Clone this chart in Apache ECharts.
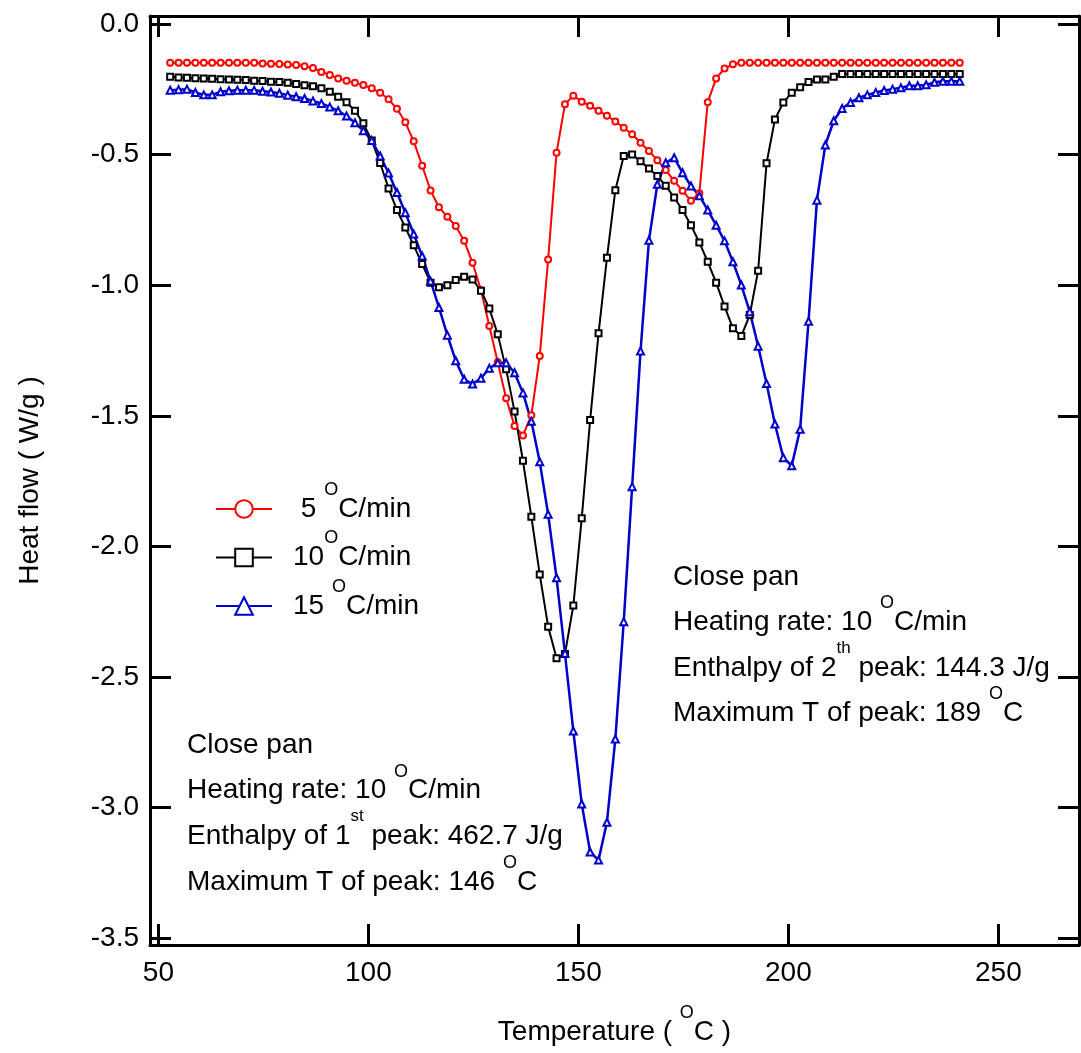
<!DOCTYPE html>
<html><head><meta charset="utf-8">
<script src="https://cdn.jsdelivr.net/npm/echarts@6/dist/echarts.min.js"></script>
<style>html,body{margin:0;padding:0;background:#fff}#c{width:1081px;height:1053px}</style>
</head><body><div id="c"></div>
<script>
const temperature = [52.8,54.8,56.8,58.8,60.8,62.8,64.8,66.8,68.8,70.8,72.8,74.8,76.8,78.8,80.8,82.8,84.8,86.8,88.8,90.8,92.8,94.8,96.8,98.8,100.8,102.8,104.8,106.8,108.8,110.8,112.8,114.8,116.8,118.8,120.8,122.8,124.8,126.8,128.8,130.8,132.8,134.8,136.8,138.8,140.8,142.8,144.8,146.8,148.8,150.8,152.8,154.8,156.8,158.8,160.8,162.8,164.8,166.8,168.8,170.8,172.8,174.8,176.8,178.8,180.8,182.8,184.8,186.8,188.8,190.8,192.8,194.8,196.8,198.8,200.8,202.8,204.8,206.8,208.8,210.8,212.8,214.8,216.8,218.8,220.8,222.8,224.8,226.8,228.8,230.8,232.8,234.8,236.8,238.8,240.8];

const flow5 = [-0.148,-0.148,-0.148,-0.148,-0.148,-0.148,-0.148,-0.148,-0.148,-0.148,-0.148,
-0.151,-0.152,-0.153,-0.155,-0.157,-0.161,-0.168,-0.183,-0.195,-0.208,
-0.217,-0.225,-0.233,-0.246,-0.263,-0.288,-0.324,-0.376,-0.449,-0.542,
-0.637,-0.701,-0.738,-0.773,-0.830,-0.914,-1.018,-1.156,-1.295,-1.433,
-1.539,-1.575,-1.498,-1.271,-0.901,-0.493,-0.307,-0.274,-0.297,-0.313,
-0.332,-0.351,-0.373,-0.397,-0.422,-0.454,-0.486,-0.521,-0.559,-0.600,
-0.638,-0.676,-0.648,-0.299,-0.208,-0.170,-0.154,
-0.148,-0.148,-0.148,-0.148,-0.148,-0.148,-0.148,-0.148,-0.148,-0.148,
-0.148,-0.148,-0.148,-0.148,-0.148,-0.148,-0.148,-0.148,-0.148,-0.148,
-0.148,-0.148,-0.148,-0.148,-0.148,-0.148,-0.148];

const flow10 = [-0.202,-0.204,-0.205,-0.207,-0.208,-0.209,-0.211,-0.212,-0.213,-0.214,
-0.217,-0.218,-0.221,-0.222,-0.225,-0.229,-0.234,-0.238,-0.246,-0.259,
-0.278,-0.299,-0.332,-0.380,-0.446,-0.532,-0.629,-0.712,-0.779,-0.847,
-0.919,-0.990,-1.008,-1.000,-0.980,-0.967,-0.978,-1.021,-1.089,-1.188,
-1.322,-1.483,-1.672,-1.886,-2.107,-2.307,-2.428,-2.412,-2.226,-1.892,
-1.516,-1.184,-0.895,-0.636,-0.505,-0.499,-0.525,-0.553,-0.582,-0.619,
-0.664,-0.712,-0.770,-0.836,-0.910,-0.990,-1.081,-1.165,-1.194,-1.114,
-0.944,-0.533,-0.365,-0.300,-0.263,-0.242,-0.222,-0.212,-0.212,-0.202,
-0.191,-0.191,-0.191,-0.191,-0.191,-0.191,-0.191,-0.191,-0.191,-0.191,
-0.191,-0.191,-0.191,-0.191,-0.191];

const flow15 = [-0.253,-0.251,-0.249,-0.262,-0.271,-0.271,-0.259,-0.255,-0.253,-0.253,
-0.253,-0.257,-0.260,-0.265,-0.272,-0.278,-0.285,-0.294,-0.304,-0.317,
-0.332,-0.352,-0.378,-0.408,-0.446,-0.505,-0.570,-0.645,-0.722,-0.804,
-0.888,-0.984,-1.085,-1.191,-1.289,-1.360,-1.378,-1.356,-1.318,-1.297,
-1.297,-1.335,-1.412,-1.521,-1.676,-1.877,-2.120,-2.409,-2.707,-2.986,
-3.170,-3.201,-3.056,-2.737,-2.288,-1.771,-1.252,-0.828,-0.613,-0.531,
-0.512,-0.569,-0.620,-0.657,-0.712,-0.770,-0.830,-0.910,-0.999,-1.101,
-1.233,-1.376,-1.531,-1.660,-1.691,-1.551,-1.138,-0.674,-0.463,-0.370,
-0.323,-0.300,-0.282,-0.271,-0.262,-0.254,-0.249,-0.244,-0.236,-0.236,
-0.232,-0.223,-0.219,-0.219,-0.219];

const xTicks = [50, 100, 150, 200, 250];
const yTicks = [0, -0.5, -1, -1.5, -2, -2.5, -3, -3.5];
const seriesNames = ['5 °C/min', '10 °C/min', '15 °C/min'];
const legendLabels = ['{g| } 5 {sup|O}C/min', '{g| }10{sup|O}C/min', '{g| }15 {sup|O}C/min'];
const noteLeft = ['Close pan', 'Heating rate: 10 {sup|O}C/min', 'Enthalpy of 1{sups|st} peak: 462.7 J/g', 'Maximum T of peak: 146 {sup|O}C'];
const noteRight = ['Close pan', 'Heating rate: 10 {sup|O}C/min', 'Enthalpy of 2{sups|th} peak: 144.3 J/g', 'Maximum T of peak: 189 {sup|O}C'];
const xTitle = 'Temperature ( {sup|O}C )';
const yTitle = 'Heat flow ( W/g )';

const FONT = '"Liberation Sans", Arial, sans-serif';
const supStyle = {fontSize: 18, lineHeight: 18, verticalAlign: 'top', fontFamily: FONT, color: '#000', fill: '#000'};
const supsStyle = {fontSize: 17, lineHeight: 20, verticalAlign: 'top', fontFamily: FONT, color: '#000', fill: '#000'};

function xAx(pos, showLabel) {
  return {type: 'value', position: pos, min: 48, max: 269.2,
    name: showLabel ? xTitle : '', nameLocation: 'middle', nameGap: 59,
    nameTextStyle: {fontSize: 28, lineHeight: 56, fontFamily: FONT, color: '#000', rich: {sup: supStyle}},
    axisLine: {show: true, onZero: false, lineStyle: {color: '#000', width: 3}},
    axisTick: {show: true, inside: true, length: 21, customValues: xTicks, lineStyle: {color: '#000', width: 3}},
    axisLabel: {show: showLabel, customValues: xTicks, fontSize: 28, color: '#000', fontFamily: FONT, margin: 14},
    splitLine: {show: false}};
}
function yAx(pos, showLabel) {
  return {type: 'value', position: pos, min: -3.526, max: 0.031,
    name: showLabel ? yTitle : '', nameLocation: 'middle', nameGap: 106, nameRotate: 90,
    nameTextStyle: {fontSize: 28, lineHeight: 28, fontFamily: FONT, color: '#000'},
    axisLine: {show: true, onZero: false, lineStyle: {color: '#000', width: 3}},
    axisTick: {show: true, inside: true, length: 21, customValues: yTicks, lineStyle: {color: '#000', width: 3}},
    axisLabel: {show: showLabel, customValues: yTicks, fontSize: 28, color: '#000', fontFamily: FONT, margin: 11,
      formatter: v => v.toFixed(1)},
    splitLine: {show: false}};
}
const noteStyle = {fontSize: 28, lineHeight: 56, fontFamily: FONT, fill: '#000', align: 'left', verticalAlign: 'middle',
  rich: {sup: supStyle, sups: supsStyle}};

function makeSeries(name, values, color, symbol, width, size) {
  return {name: name, type: 'line', xAxisIndex: 0, yAxisIndex: 0,
    data: temperature.map((t, i) => [t, values[i]]),
    symbol: symbol, symbolSize: size, showSymbol: true,
    lineStyle: {color: color, width: width},
    itemStyle: {color: color, borderColor: color, borderWidth: 1},
    emphasis: {disabled: true}, animation: false};
}

const chart = echarts.init(document.getElementById('c'), null, {renderer: 'canvas'});
chart.setOption({
  backgroundColor: '#fff',
  animation: false,
  grid: {left: 150, right: 2, top: 16, bottom: 108, containLabel: false, outerBoundsMode: 'none'},
  xAxis: [xAx('bottom', true), xAx('top', false)],
  yAxis: [yAx('left', true), yAx('right', false)],
  legend: {orient: 'vertical', left: 210, top: 476, itemWidth: 56, itemHeight: 22, itemGap: -7.5,
    selectedMode: false, data: seriesNames,
    formatter: n => legendLabels[seriesNames.indexOf(n)],
    textStyle: {fontSize: 28, lineHeight: 56, fontFamily: FONT, color: '#000',
      rich: {sup: supStyle, g: {width: 16, fontSize: 28, lineHeight: 56}}}},
  series: [
    makeSeries(seriesNames[0], flow5, '#ff0000', 'emptyCircle', 2, 6),
    makeSeries(seriesNames[1], flow10, '#000000', 'emptyRect', 2, 6),
    makeSeries(seriesNames[2], flow15, '#0000cc', 'emptyTriangle', 2.5, 7)
  ],
  graphic: noteLeft.map((t, i) => ({type: 'text', x: 187, y: 745 + 45.6 * i, silent: true, style: Object.assign({text: t}, noteStyle)}))
    .concat(noteRight.map((t, i) => ({type: 'text', x: 673, y: 577 + 45.5 * i, silent: true, style: Object.assign({text: t}, noteStyle)})))
});
</script></body></html>
